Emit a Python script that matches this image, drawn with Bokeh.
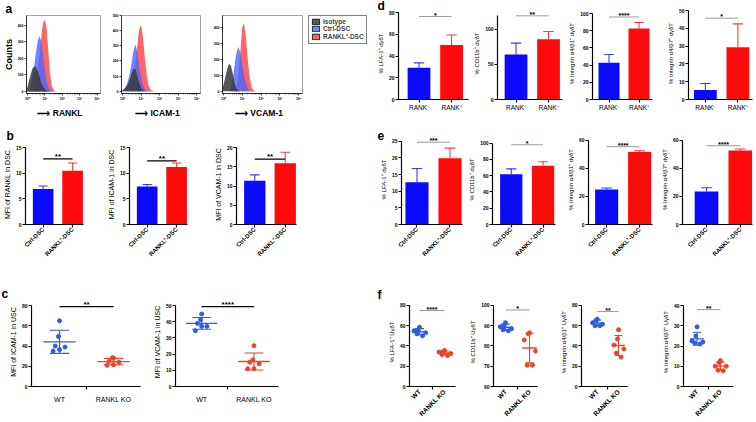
import numpy as np
from bokeh.plotting import figure
from bokeh.layouts import row, column
from bokeh.models import Range1d, FixedTicker, Legend, LegendItem
from bokeh.core.properties import value
from bokeh.embed import file_html
from bokeh.resources import INLINE

# ---------------- data ----------------
HIST_DECADES = [-0.1, 0.0, 0.1, 0.2, 0.3, 0.4, 0.5, 0.6, 0.7, 0.8, 0.9, 1.0,
                1.1, 1.2, 1.3, 1.4, 1.5, 1.6, 1.7, 1.8, 1.9, 2.0]
HIST_MARKERS = ["RANKL", "ICAM-1", "VCAM-1"]
HIST_SERIES = ["Isotype", "Ctrl-DSC", "RANKL⁺-DSC"]
RANKL_ISO = [0, 25, 65, 108, 140, 152, 146, 122, 88, 54, 30, 15, 6, 2, 0, 0, 0, 0, 0, 0, 0, 0]
RANKL_CTRL = [0, 0, 10, 40, 90, 160, 240, 310, 335, 300, 220, 130, 65, 28, 10, 3, 0, 0, 0, 0, 0, 0]
RANKL_POS = [0, 0, 0, 0, 0, 15, 50, 120, 220, 330, 415, 433, 385, 250, 110, 35, 10, 3, 0, 0, 0, 0]
ICAM_ISO = [0, 5, 15, 30, 50, 82, 120, 150, 145, 100, 55, 25, 8, 2, 0, 0, 0, 0, 0, 0, 0, 0]
ICAM_CTRL = [0, 5, 15, 35, 70, 120, 190, 270, 310, 260, 170, 90, 40, 15, 5, 2, 0, 0, 0, 0, 0, 0]
ICAM_POS = [0, 0, 0, 0, 0, 10, 35, 90, 180, 300, 410, 440, 360, 230, 110, 40, 12, 4, 0, 0, 0, 0]
VCAM_ISO = [10, 40, 90, 140, 172, 160, 110, 50, 15, 3, 0, 0, 0, 0, 0, 0, 0, 0, 0, 0, 0, 0]
VCAM_CTRL = [0, 0, 0, 0, 0, 20, 80, 170, 250, 277, 240, 170, 100, 45, 15, 4, 0, 0, 0, 0, 0, 0]
VCAM_POS = [0, 0, 0, 0, 0, 0, 0, 0, 30, 110, 250, 400, 427, 330, 190, 80, 25, 6, 1, 0, 0, 0]
HIST_YTICKS = [[0, 100, 200, 300, 400], [0, 100, 200, 300, 400, 500], [0, 100, 200, 300, 400]]
HIST_XLABELS = ["10⁰", "10¹", "10²", "10³", "10⁴"]

B_GROUPS = ["Ctrl-DSC", "RANKL⁺-DSC"]
B_MEAN = [[6.9, 10.5], [7.4, 11.2], [11.4, 15.9]]
B_ERR = [[0.6, 1.5], [0.4, 0.8], [1.5, 2.9]]
B_YLABEL = ["MFI of RANKL in DSC", "MFI of ICAM-1 in DSC", "MFI of VCAM-1 in DSC"]
B_SIG = ["**", "**", "**"]
B_SIG_Y = [12.8, 12.4, 17.0]
B_YTICKS = [[0, 5, 10, 15], [0, 5, 10, 15], [0, 5, 10, 15, 20]]

C_GROUPS = ["WT", "RANKL KO"]
C_ICAM_WT = [65, 49.5, 40, 39, 36.5, 35]
C_ICAM_KO = [28, 28.5, 25, 24, 21.5, 21]
C_VCAM_WT = [44.8, 41.3, 39, 37.2, 37.2, 34.5]
C_VCAM_KO = [25.2, 16.5, 15, 14, 11, 11]
C_YLABEL = ["MFI of ICAM-1 in USC", "MFI of VCAM-1 in USC"]
C_SIG = ["**", "****"]
C_SIG_Y = [79, 49.4]
C_YTICKS = [[0, 20, 40, 60, 80], [0, 10, 20, 30, 40, 50]]
C_JIT = [0.0, -0.02, -0.08, 0.1, 0.0, -0.12]

D_GROUPS = ["RANK⁻", "RANK⁺"]
D_MEAN = [[29.2, 50.2], [64.3, 86.2], [42.6, 82.6], [5.3, 29.3]]
D_ERR = [[4.5, 9.1], [16.2, 10.9], [9.7, 6.9], [3.7, 13.2]]
D_YLABEL = ["% LFA-1⁺ dγδT", "% CD11b⁺ dγδT", "% Integrin α4/β1⁺ dγδT", "% Integrin α4/β7⁺ dγδT"]
D_SIG = ["*", "**", "****", "*"]
D_SIG_Y = [76.3, 119.5, 96, 45.7]
D_YTICKS = [[0, 20, 40, 60, 80], [0, 50, 100], [0, 20, 40, 60, 80, 100], [0, 10, 20, 30, 40, 50]]
D_YMAX = [80, 120, 100, 50]

E_GROUPS = ["Ctrl-DSC", "RANKL⁺-DSC"]
E_MEAN = [[12.7, 19.9], [61.7, 72.3], [24.9, 51.6], [23.5, 52.7]]
E_ERR = [[4.1, 3.0], [6.7, 4.8], [1.1, 0.9], [2.7, 1.1]]
E_YLABEL = ["% LFA-1⁺ dγδT", "% CD11b⁺ dγδT", "% Integrin α4/β1⁺ dγδT", "% Integrin α4/β7⁺ dγδT"]
E_SIG = ["***", "*", "****", "****"]
E_SIG_Y = [24.7, 98, 55.4, 56.1]
E_YTICKS = [[0, 5, 10, 15, 20, 25], [0, 20, 40, 60, 80, 100], [0, 20, 40, 60], [0, 20, 40, 60]]

F_GROUPS = ["WT", "RANKL KO"]
F_WT = [[58.5, 56, 55, 53, 52, 50], [91.5, 90.5, 89.5, 88.5, 88, 87.5],
        [66.5, 65.5, 63, 61.5, 60, 60], [29.5, 25, 22.5, 22, 21.5, 21]]
F_KO = [[35.5, 34.5, 34, 32.5, 31.5, 30.5], [86.5, 86, 83, 77.5, 70.5, 70.5],
        [56, 47, 41, 37, 33, 29], [12.8, 11.8, 10, 10, 8, 7.8]]
F_YLABEL = ["% LFA-1⁺ UγδT", "% CD11b⁺ UγδT", "% Integrin α4/β1⁺ UγδT", "% Integrin α4/β7⁺ UγδT"]
F_SIG = ["****", "*", "**", "**"]
F_SIG_Y = [75, 97.8, 74, 38]
F_YTICKS = [[0, 20, 40, 60, 80], [60, 70, 80, 90, 100], [0, 20, 40, 60, 80], [0, 10, 20, 30, 40]]
F_JIT = [0.0, -0.05, -0.22, 0.25, -0.1, 0.12]

# ---------------- styling ----------------
FONT = "Liberation Sans"
BLUE, RED = "#0a0aff", "#ff0a0a"
SBLUE, SRED = "#2f5ce0", "#e8452c"
HCOL = ["#3a3a3a", "#4a66ff", "#ff4a4a"]
HALPHA = [0.85, 0.8, 0.85]


def mkfig(cells, i, rowy, fx, fy, xr, yr):
    cx0, cx1 = cells[i], cells[i + 1]
    p = figure(width=cx1 - cx0, height=rowy[1] - rowy[0],
               x_range=Range1d(*xr), y_range=Range1d(*yr),
               output_backend="svg", toolbar_location=None,
               min_border_left=fx[0] - cx0, min_border_right=cx1 - fx[1],
               min_border_top=fy[0] - rowy[0], min_border_bottom=rowy[1] - fy[1])
    p.grid.visible = False
    p.outline_line_color = None
    p.background_fill_color = "white"
    p.border_fill_color = "white"
    return p


def style(p, tick_font="5px", lab_font="6.5px", lw=1.2, tick=3):
    for ax in (p.xaxis[0], p.yaxis[0]):
        ax.axis_line_width = lw
        ax.axis_line_color = "black"
        ax.major_tick_line_width = lw
        ax.major_tick_line_color = "black"
        ax.major_tick_in = 0
        ax.major_tick_out = tick
        ax.minor_tick_in = 0
        ax.minor_tick_out = 0
        ax.major_label_standoff = 1
        ax.axis_label_standoff = 2
        ax.major_label_text_font = FONT
        ax.major_label_text_font_style = "bold"
        ax.major_label_text_font_size = tick_font
        ax.major_label_text_color = "black"
        ax.axis_label_text_font = FONT
        ax.axis_label_text_font_style = "normal"
        ax.axis_label_text_font_size = lab_font
        ax.axis_label_text_color = "black"


def letter(p, txt, rx, rbase, fx, fy):
    # panel letter as the figure title, pulled left of / onto the frame edge
    p.title.text = txt
    p.title.align = "left"
    p.title.offset = rx - fx[0]
    p.title.standoff = (fy[0] - rbase) - 3
    p.title.text_font = FONT
    p.title.text_font_style = "bold"
    p.title.text_font_size = "12px"
    p.title.text_color = "black"


def sig(p, s, y, dark):
    p.segment(x0=[1], y0=[y], x1=[2], y1=[y], line_color="black" if dark else "#9a9a9a",
              line_width=1.3 if dark else 1.0)
    p.text(x=[1.5], y=[y], text=[s], text_align="center", text_baseline="bottom",
           text_font=value(FONT), text_font_style="bold",
           text_font_size="8px" if dark else "7px", y_offset=2, text_color="black")


def bars(p, means, errs, groups, ylabel, yticks, ymax, rot, lab_font):
    xs = [1, 2]
    p.vbar(x=xs, top=means, width=0.7, fill_color=[BLUE, RED], line_color=None)
    tops = [m + e for m, e in zip(means, errs)]
    p.segment(x0=xs, y0=means, x1=xs, y1=tops, line_color=[BLUE, RED], line_width=1.1, line_alpha=0.8)
    p.segment(x0=[x - 0.16 for x in xs], y0=tops, x1=[x + 0.16 for x in xs], y1=tops,
              line_color=[BLUE, RED], line_width=1.1, line_alpha=0.8)
    style(p, lab_font=lab_font)
    p.xaxis.ticker = FixedTicker(ticks=xs)
    p.xaxis.major_label_overrides = {1: groups[0], 2: groups[1]}
    p.xaxis.major_label_text_font_size = "6px"
    if rot:
        p.xaxis.major_label_orientation = np.pi / 4
    p.yaxis.ticker = FixedTicker(ticks=yticks)
    p.yaxis.bounds = (yticks[0], ymax)
    p.yaxis.axis_label = ylabel


def dots(p, wt, ko, jit, groups, ylabel, yticks, rot):
    for k, (vals, col) in enumerate([(wt, SBLUE), (ko, SRED)]):
        xc = k + 1
        xs = [xc + j for j in jit]
        p.scatter(xs, vals, size=4, color=col)
        m = float(np.mean(vals))
        s = float(np.std(vals, ddof=1))
        p.segment(x0=[xc - 0.3], y0=[m], x1=[xc + 0.3], y1=[m], line_color=col, line_width=1.3)
        p.segment(x0=[xc], y0=[m - s], x1=[xc], y1=[m + s], line_color=col, line_width=1.1)
        p.segment(x0=[xc - 0.18, xc - 0.18], y0=[m - s, m + s], x1=[xc + 0.18, xc + 0.18],
                  y1=[m - s, m + s], line_color=col, line_width=1.1)
    style(p)
    p.xaxis.ticker = FixedTicker(ticks=[1, 2], minor_ticks=[1.5])
    p.xaxis.major_tick_out = 0
    p.xaxis.minor_tick_out = 3
    p.xaxis.minor_tick_line_width = 1.2
    p.xaxis.minor_tick_line_color = "black"
    p.xaxis.major_label_overrides = {1: groups[0], 2: groups[1]}
    if rot:
        p.xaxis.major_label_orientation = np.pi / 4
        p.xaxis.major_label_text_font_size = "6.5px"
    else:
        p.xaxis.major_label_text_font_style = "normal"
        p.xaxis.major_label_text_font_size = "7px"
        p.xaxis.major_label_standoff = 6
    p.yaxis.ticker = FixedTicker(ticks=yticks)
    p.yaxis.bounds = (yticks[0], yticks[-1])
    p.yaxis.axis_label = ylabel


# ---------------- panel a : histograms ----------------
A_CELLS = [0, 106, 210, 304, 374]
A_ROW = (0, 120)
A_FX = [(23, 100), (121, 200), (220, 302)]
A_FY = (15, 95)
A_YR = [(-12, 459), (-15, 500), (-14, 475)]
HISTS = [(RANKL_ISO, RANKL_CTRL, RANKL_POS), (ICAM_ISO, ICAM_CTRL, ICAM_POS), (VCAM_ISO, VCAM_CTRL, VCAM_POS)]
minor = [k + float(np.log10(m)) for k in range(0, 4) for m in range(2, 10)]
row_a = []
for i in range(3):
    p = mkfig(A_CELLS, i, A_ROW, A_FX[i], A_FY, (-0.05, 4.2), A_YR[i])
    p.outline_line_color = "#8a8a8a"
    p.outline_line_width = 0.8
    series = HISTS[i]
    for j in (2, 1, 0):
        p.varea(x=HIST_DECADES, y1=0, y2=series[j], fill_color=HCOL[j], fill_alpha=HALPHA[j])
    style(p, tick_font="3.5px", lab_font="8.5px", lw=0.7, tick=2)
    p.xaxis.ticker = FixedTicker(ticks=[0, 1, 2, 3, 4], minor_ticks=minor)
    p.xaxis.minor_tick_out = 1
    p.xaxis.minor_tick_line_width = 0.5
    p.xaxis.major_label_overrides = {k: HIST_XLABELS[k] for k in range(5)}
    p.yaxis.ticker = FixedTicker(ticks=HIST_YTICKS[i])
    p.xaxis.axis_label = "⟶    " + HIST_MARKERS[i]
    p.xaxis.axis_label_text_font_style = "bold"
    p.xaxis.axis_label_standoff = 4
    if i == 0:
        p.yaxis.axis_label = "Counts"
        p.yaxis.axis_label_text_font_style = "bold"
        p.yaxis.axis_label_text_font_size = "9px"
        p.yaxis.axis_label_standoff = 1
        letter(p, "a", 2, 13, A_FX[i], A_FY)
    row_a.append(p)

# legend area (own small figure, no axes); its frame starts where the legend box starts
pl = figure(width=A_CELLS[4] - A_CELLS[3], height=A_ROW[1] - A_ROW[0], x_range=Range1d(0, 1),
            y_range=Range1d(0, 1), x_axis_location=None, y_axis_location=None,
            output_backend="svg", toolbar_location=None,
            min_border_left=4, min_border_top=12, min_border_right=0, min_border_bottom=0)
pl.grid.visible = False
pl.outline_line_color = None
pl.border_fill_color = "white"
items = []
for j in range(3):
    r = pl.rect(x=[-5], y=[-5], width=1, height=1, fill_color=HCOL[j], fill_alpha=HALPHA[j],
                line_color="black", line_width=0.8)
    items.append(LegendItem(label=HIST_SERIES[j], renderers=[r]))
leg = Legend(items=items, location="top_left", margin=0, padding=2, spacing=0,
             glyph_width=9, glyph_height=7, label_height=7, label_standoff=3,
             label_text_font=FONT, label_text_font_style="bold", label_text_font_size="6.5px",
             border_line_color="black", border_line_width=1, background_fill_alpha=0)
pl.add_layout(leg)
row_a.append(pl)

# ---------------- panel b ----------------
B_CELLS = [0, 104, 211, 374]
B_ROW = (120, 262)
B_FX = [(21, 83), (124, 187), (230, 296)]
B_FY = (144, 227)
B_YR = [(0, 15.6), (0, 15.6), (0, 20.8)]
row_b = []
for i in range(3):
    p = mkfig(B_CELLS, i, B_ROW, B_FX[i], B_FY, (0.4, 2.37), B_YR[i])
    bars(p, B_MEAN[i], B_ERR[i], B_GROUPS, B_YLABEL[i], B_YTICKS[i], B_YTICKS[i][-1], True, "7px")
    sig(p, B_SIG[i], B_SIG_Y[i], True)
    if i == 0:
        letter(p, "b", 2, 138, B_FX[i], B_FY)
    row_b.append(p)

# ---------------- panel c ----------------
C_CELLS = [0, 150, 374]
C_ROW = (262, 422)
C_FX = [(31, 140), (170, 278)]
C_FY = (297, 386)
C_XR = [(0.48, 2.5), (0.5, 2.47)]
C_YR = [(0, 88), (0, 55)]
C_DATA = [(C_ICAM_WT, C_ICAM_KO), (C_VCAM_WT, C_VCAM_KO)]
row_c = []
for i in range(2):
    p = mkfig(C_CELLS, i, C_ROW, C_FX[i], C_FY, C_XR[i], C_YR[i])
    dots(p, C_DATA[i][0], C_DATA[i][1], C_JIT, C_GROUPS, C_YLABEL[i], C_YTICKS[i], False)
    p.yaxis.axis_label_text_font_size = "7px"
    sig(p, C_SIG[i], C_SIG_Y[i], True)
    if i == 0:
        letter(p, "c", 1, 301, C_FX[i], C_FY)
    row_c.append(p)

# ---------------- panel d ----------------
D_CELLS = [374, 470, 565, 655, 756]
D_ROW = (0, 118)
D_FX = [(398, 468), (497, 562), (592, 652), (688, 752)]
D_FY = (7, 99)
D_XR = [(0.37, 2.52), (0.43, 2.43), (0.45, 2.45), (0.48, 2.45)]
D_YR = [(0, 84.6), (0, 131.4), (0, 107), (0, 51.7)]
row_d = []
for i in range(4):
    p = mkfig(D_CELLS, i, D_ROW, D_FX[i], D_FY, D_XR[i], D_YR[i])
    bars(p, D_MEAN[i], D_ERR[i], D_GROUPS, D_YLABEL[i], D_YTICKS[i], D_YMAX[i], False, "6px")
    p.xaxis.major_label_text_font_style = "normal"
    p.xaxis.major_label_text_font_size = "6.5px"
    sig(p, D_SIG[i], D_SIG_Y[i], False)
    if i == 0:
        letter(p, "d", 377, 15, D_FX[i], D_FY)
    row_d.append(p)

# ---------------- panel e ----------------
E_CELLS = [374, 465, 560, 655, 756]
E_ROW = (118, 262)
E_FX = [(401, 462), (492, 555), (588, 652), (682, 752)]
E_FY = (134, 228)
E_XR = [(0.53, 2.38), (0.41, 2.39), (0.45, 2.39), (0.29, 2.36)]
E_YR = [(0, 27), (0, 110.6), (0, 64.1), (0, 64.1)]
row_e = []
for i in range(4):
    p = mkfig(E_CELLS, i, E_ROW, E_FX[i], E_FY, E_XR[i], E_YR[i])
    bars(p, E_MEAN[i], E_ERR[i], E_GROUPS, E_YLABEL[i], E_YTICKS[i], E_YTICKS[i][-1], True, "6px")
    sig(p, E_SIG[i], E_SIG_Y[i], False)
    if i == 0:
        letter(p, "e", 377, 142, E_FX[i], E_FY)
    row_e.append(p)

# ---------------- panel f ----------------
F_CELLS = [374, 465, 555, 655, 756]
F_ROW = (262, 422)
F_FX = [(409, 455), (493, 537), (581, 627), (683, 733)]
F_FY = (297, 386)
F_XR = [(0.6, 2.44), (0.5, 2.33), (0.26, 2.42), (0.42, 2.56)]
F_YR = [(0, 87.9), (60, 103.95), (0, 87.9), (0, 44)]
row_f = []
for i in range(4):
    p = mkfig(F_CELLS, i, F_ROW, F_FX[i], F_FY, F_XR[i], F_YR[i])
    dots(p, F_WT[i], F_KO[i], F_JIT, F_GROUPS, F_YLABEL[i], F_YTICKS[i], True)
    p.yaxis.axis_label_text_font_size = "6px"
    sig(p, F_SIG[i], F_SIG_Y[i], False)
    if i == 0:
        letter(p, "f", 377, 302, F_FX[i], F_FY)
    row_f.append(p)

left = column(row(*row_a), row(*row_b), row(*row_c))
right = column(row(*row_d), row(*row_e), row(*row_f))
layout = row(left, right)

open("out.html", "w").write(file_html(layout, INLINE))
